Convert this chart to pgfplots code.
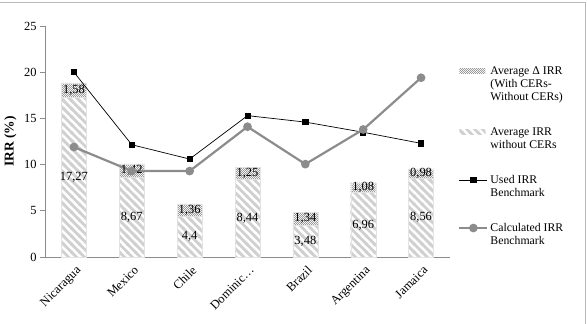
\documentclass[border=0pt]{standalone}
\usepackage{fontspec}
\setmainfont{Liberation Serif}
\usepackage{pgfplots}
\usepackage{pgfplotstable}
\pgfplotsset{compat=1.18}
\usetikzlibrary{patterns}

\definecolor{stripegray}{HTML}{D0D0D0}
\definecolor{checkgray}{HTML}{9C9C9C}
\definecolor{calcgray}{HTML}{8C8C8C}
\definecolor{axisgray}{HTML}{8C8C8C}

% wide "\" stripes for the IRR-without-CERs segment
\pgfdeclarepatternformonly{widestripes}{\pgfqpoint{-1pt}{-1pt}}{\pgfqpoint{9pt}{9pt}}{\pgfqpoint{8pt}{8pt}}{%
  \pgfsetlinewidth{2.8pt}%
  \pgfpathmoveto{\pgfqpoint{0pt}{8pt}}\pgfpathlineto{\pgfqpoint{8pt}{0pt}}%
  \pgfpathmoveto{\pgfqpoint{-1pt}{1pt}}\pgfpathlineto{\pgfqpoint{1pt}{-1pt}}%
  \pgfpathmoveto{\pgfqpoint{7pt}{9pt}}\pgfpathlineto{\pgfqpoint{9pt}{7pt}}%
  \pgfusepath{stroke}}
% fine checker for the delta segment
\pgfdeclarepatternformonly{finecheck}{\pgfqpoint{0pt}{0pt}}{\pgfqpoint{2pt}{2pt}}{\pgfqpoint{2pt}{2pt}}{%
  \pgfpathrectangle{\pgfqpoint{0pt}{0pt}}{\pgfqpoint{1pt}{1pt}}%
  \pgfpathrectangle{\pgfqpoint{1pt}{1pt}}{\pgfqpoint{1pt}{1pt}}%
  \pgfusepath{fill}}

\pgfplotstableread{
x base delta used calc
0 17.27 1.58 20.0 11.9
1 8.67  1.42 12.15 9.3
2 4.4   1.36 10.6 9.3
3 8.44  1.25 15.3 14.1
4 3.48  1.34 14.6 10.05
5 6.96  1.08 13.5 13.8
6 8.56  0.98 12.3 19.4
}\irrdata

\tikzset{
  basebar/.style={pattern=widestripes, pattern color=stripegray, draw=stripegray!60},
  deltabar/.style={pattern=finecheck, pattern color=checkgray, draw=stripegray!60},
}

\pgfplotsset{
  irraxis/.style={
    at={(45bp,67bp)}, anchor=south west,
    scale only axis, width=405bp, height=231bp,
    xmin=-0.5, xmax=6.5, ymin=0, ymax=25,
    clip=false,
  },
  % legend keys sit level with the first line of their entry
  linelegend/.style={
    legend image code/.code={\draw[mark repeat=2, mark phase=2, yshift=6.75bp, ##1] plot coordinates {(0bp,0bp) (14bp,0bp) (28bp,0bp)};}
  },
  deltalegend/.style={
    legend image code/.code={\path[deltabar, draw=none] (0bp,11.3bp) rectangle (26bp,15.7bp);}
  },
  baselegend/.style={
    legend image code/.code={\path[basebar, draw=none] (0bp,4.55bp) rectangle (26bp,8.95bp);}
  },
}

\begin{document}
\begin{tikzpicture}
\useasboundingbox (0,0) rectangle (587bp,324bp);
\draw[gray!55, line width=1bp] (0,321.5bp) -- (585.5bp,321.5bp) -- (585.5bp,0);

% stacked bars
\begin{axis}[
  irraxis,
  ybar stacked, bar width=25bp,
  axis lines*=left,
  axis line style={axisgray, line width=0.6bp},
  xtick={0,...,6},
  xticklabels={Nicaragua,Mexico,Chile,Dominic…,Brazil,Argentina,Jamaica},
  xtick style={draw=none},
  minor xtick={-0.5,0.5,...,6.5},
  minor tick length=5bp,
  minor x tick style={axisgray, line width=0.6bp},
  ytick={0,5,...,25},
  ytick style={axisgray, line width=0.6bp},
  major tick length=5bp,
  tick align=outside,
  ticklabel style={font=\fontsize{12.5}{14}\selectfont},
  xticklabel style={rotate=45, anchor=north east, inner sep=1bp, yshift=-2bp},
  /pgf/number format/assume math mode=true,
  ylabel={\textbf{IRR (\%)}},
  ylabel style={font=\fontsize{13.5}{15}\selectfont, at={(-25bp,0.5)}, anchor=south},
]
\addplot[basebar] table[x=x, y=base] {\irrdata};
\addplot[deltabar] table[x=x, y=delta] {\irrdata};
\end{axis}

% benchmark lines, value labels and legend
\begin{axis}[
  irraxis,
  hide axis,
  /pgf/number format/.cd, use comma, fixed, precision=2, assume math mode=true,
  /pgfplots/.cd,
  every node near coord/.append style={anchor=center, font=\fontsize{12.5}{14}\selectfont, inner sep=0pt},
  legend style={
    at={(1.02,0.835)}, anchor=north west,
    draw=none, fill=none, inner sep=0pt,
    font=\fontsize{11.8}{13.5}\selectfont,
    row sep=21bp,
  },
  legend cell align=left,
  legend style={cells={align=left, anchor=west}},
]
\addlegendimage{deltalegend}
\addlegendentry{Average Δ IRR\\(With CERs-\\Without CERs)}
\addlegendimage{baselegend}
\addlegendentry{Average IRR\\without CERs}

\addplot[draw=none, mark=none, nodes near coords, point meta=explicit, forget plot]
  table[x=x, y expr=\thisrow{base}/2, meta=base] {\irrdata};
\addplot[draw=none, mark=none, nodes near coords, point meta=explicit, forget plot]
  table[x=x, y expr=\thisrow{base}+\thisrow{delta}/2, meta=delta] {\irrdata};

\addplot[black, line width=0.7bp, mark=square*, mark size=2.6bp, mark options={fill=black}, linelegend]
  table[x=x, y=used] {\irrdata};
\addlegendentry{Used IRR\\Benchmark}
\addplot[calcgray, line width=2.2bp, mark=*, mark size=3.2bp, mark options={fill=calcgray, draw=calcgray}, linelegend]
  table[x=x, y=calc] {\irrdata};
\addlegendentry{Calculated IRR\\Benchmark}
\end{axis}
\end{tikzpicture}
\end{document}
